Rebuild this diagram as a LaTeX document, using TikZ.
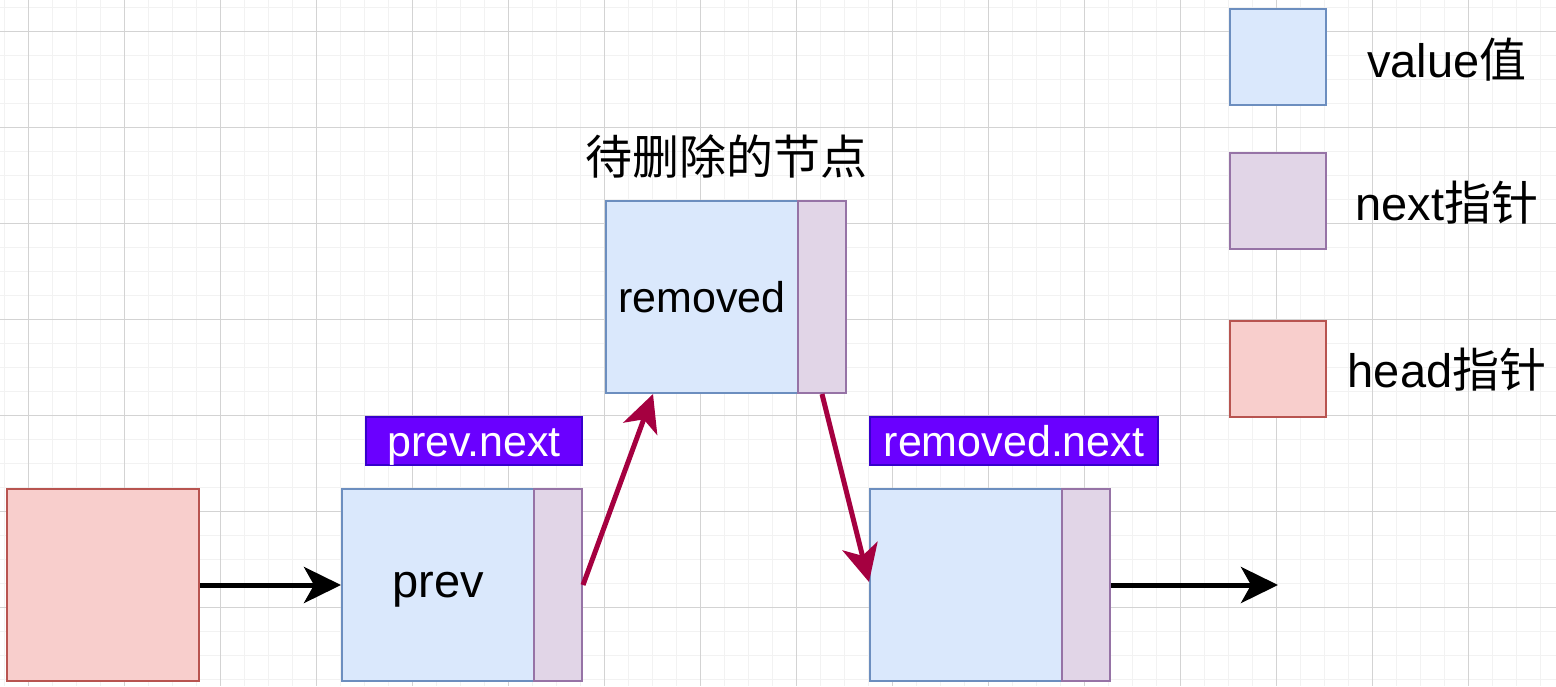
\documentclass[tikz,border=0pt]{standalone}
\usepackage{fontspec}
\setmainfont{Liberation Sans}
\newfontfamily\cjk{Noto Sans CJK SC}
\usepackage{xcolor}
\usepackage{tikz}
\usetikzlibrary{arrows.meta}
\definecolor{valuefill}{HTML}{DAE8FC}
\definecolor{valuedraw}{HTML}{6C8EBF}
\definecolor{nextfill}{HTML}{E1D5E7}
\definecolor{nextdraw}{HTML}{9673A6}
\definecolor{headfill}{HTML}{F8CECC}
\definecolor{headdraw}{HTML}{B85450}
\definecolor{tagfill}{HTML}{6A00FF}
\definecolor{tagdraw}{HTML}{3700CC}
\definecolor{linkred}{HTML}{A50040}
\definecolor{gridminor}{HTML}{F2F2F2}
\definecolor{gridmajor}{HTML}{D3D3D3}

\begin{document}
\begin{tikzpicture}[
    x=0.5pt, y=-0.5pt,
    bigtext/.style={font=\fontsize{23.5}{28}\selectfont},
    midtext/.style={font=\fontsize{21.5}{26}\selectfont},
    valuebox/.style={rectangle, draw=valuedraw, fill=valuefill, line width=1pt, inner sep=0pt, minimum width=96pt, minimum height=96pt},
    nextbox/.style={rectangle, draw=nextdraw, fill=nextfill, line width=1pt, inner sep=0pt, minimum width=24pt, minimum height=96pt},
    headbox/.style={rectangle, draw=headdraw, fill=headfill, line width=1pt, inner sep=0pt, minimum width=96pt, minimum height=96pt},
    legendbox/.style={rectangle, line width=1pt, inner sep=0pt, minimum width=48pt, minimum height=48pt},
    tag/.style={rectangle, draw=tagdraw, fill=tagfill, line width=1pt, inner sep=0pt, minimum height=24pt, text height=15.5pt, text depth=0pt, text=white, midtext},
    link/.style={line width=2.5pt, -{Stealth[length=18.5pt, width=18pt, inset=5pt]}},
    redlink/.style={link, draw=linkred, fill=linkred}
]
\useasboundingbox (0,0) rectangle (1556,686);
% Grid
\foreach \gx in {4,28,...,1556} \draw[gridminor, line width=0.5pt] (\gx,0) -- (\gx,686);
\foreach \gy in {7,31,...,686} \draw[gridminor, line width=0.5pt] (0,\gy) -- (1556,\gy);
\foreach \gx in {28,124,...,1556} \draw[gridmajor, line width=0.5pt] (\gx,0) -- (\gx,686);
\foreach \gy in {31,127,...,686} \draw[gridmajor, line width=0.5pt] (0,\gy) -- (1556,\gy);

% List nodes
\node[headbox] (head) at (103,585) {};
\node[valuebox, bigtext, text height=12pt, text depth=0pt] (prev) at (438,585) {prev};
\node[nextbox] (prevnext) at (558,585) {};
\node[valuebox, midtext] (removed) at (702,297) {removed};
\node[nextbox] (removednext) at (822,297) {};
\node[valuebox] (succ) at (966,585) {};
\node[nextbox] (succnext) at (1086,585) {};
\coordinate (tail) at (1278,585);

% Tags
\node[tag, minimum width=108pt] (prevtag) at (474,441) {prev.next};
\node[tag, minimum width=144pt] (removedtag) at (1014,441) {removed.next};
\node[bigtext] (title) at (726,156) {\cjk 待删除的节点};

% Links
\draw[link] (head.east) -- (prev.west);
\draw[redlink] (prevnext.east) -- ([xshift=24pt]removed.south west);
\draw[redlink] (removednext.south) -- ([yshift=1.5pt]succ.west);
\draw[link] (succnext.east) -- (tail);

% Legend
\node[legendbox, draw=valuedraw, fill=valuefill] (keyvalue) at (1278,57) {};
\node[legendbox, draw=nextdraw, fill=nextfill] (keynext) at (1278,201) {};
\node[legendbox, draw=headdraw, fill=headfill] (keyhead) at (1278,369) {};
\node[bigtext] (keyvaluetext) at (1447,60) {value{\cjk 值}};
\node[bigtext] (keynexttext) at (1447,203) {next{\cjk 指针}};
\node[bigtext] (keyheadtext) at (1447,370) {head{\cjk 指针}};
\end{tikzpicture}
\end{document}
